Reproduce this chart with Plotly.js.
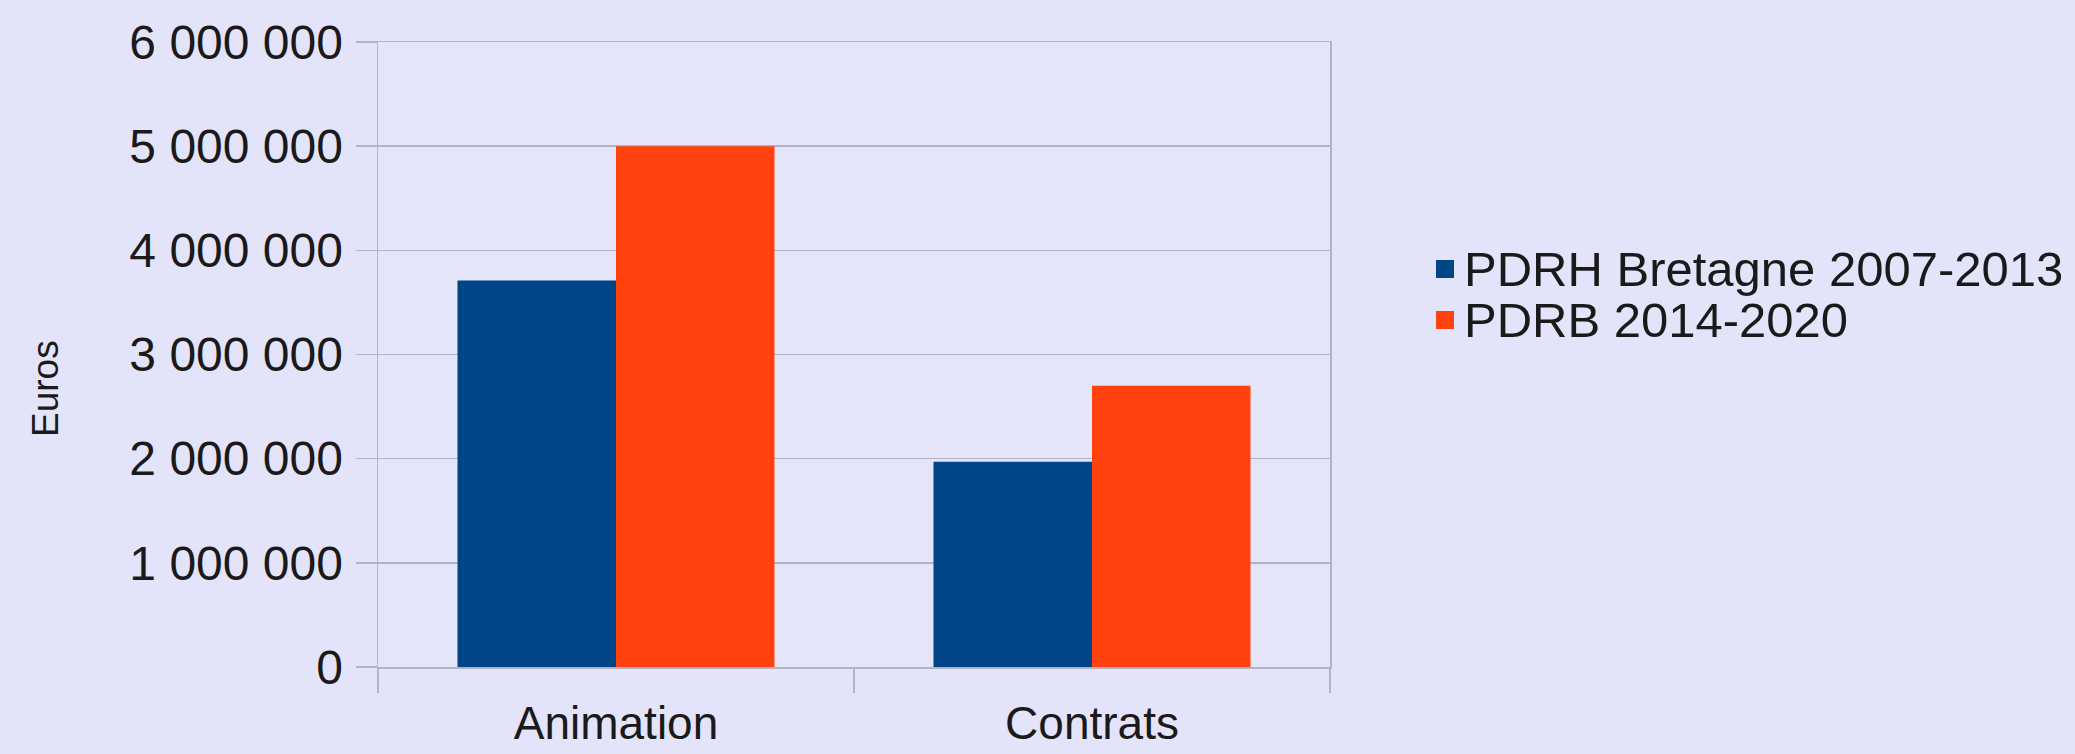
<!DOCTYPE html>
<html>
<head>
<meta charset="utf-8">
<script src="https://cdn.plot.ly/plotly-3.0.1.min.js"></script>
<style>
  html, body { margin: 0; padding: 0; background: #E3E3FA; }
  #chart { width: 2075px; height: 754px; }
</style>
</head>
<body>
<div id="chart"></div>
<script>
const categories = ["Animation", "Contrats"];
const seriesNames = ["PDRH Bretagne 2007-2013", "PDRB 2014-2020"];
const pdrh2007_2013 = [3710000, 1970000];
const pdrb2014_2020 = [5000000, 2700000];
const seriesColors = ["#004586", "#FF420E"];
const yAxisTitle = "Euros";

const FONT = "Liberation Sans, Arial, sans-serif";
const TXT = "#1a1a1a";

const traces = [
  { type: "bar", name: seriesNames[0], x: categories, y: pdrh2007_2013,
    marker: { color: seriesColors[0], line: { width: 0 } }, showlegend: false },
  { type: "bar", name: seriesNames[1], x: categories, y: pdrb2014_2020,
    marker: { color: seriesColors[1], line: { width: 0 } }, showlegend: false }
];

// Plot area in pixels: x 378..1330, y 42..667
const L = 378, R = 1330, T = 42, B = 667;
const px2x = p => (p - L) / (R - L);
const px2y = p => (B - p) / (B - T);

// Legend (drawn as key squares + labels)
const legendCenters = [269, 320];
const legendShapes = seriesNames.map((n, i) => ({
  type: "rect", xref: "paper", yref: "paper", layer: "above",
  x0: px2x(1436), x1: px2x(1454),
  y0: px2y(legendCenters[i] + 9), y1: px2y(legendCenters[i] - 9),
  fillcolor: seriesColors[i], line: { width: 0 }
}));
const legendLabels = seriesNames.map((n, i) => ({
  xref: "paper", yref: "paper",
  x: px2x(1462), y: px2y(legendCenters[i]),
  xanchor: "left", yanchor: "middle",
  showarrow: false, text: n,
  font: { family: FONT, size: 49, color: TXT }
}));

const layout = {
  width: 2075, height: 754,
  margin: { l: L, r: 2075 - R, t: T, b: 754 - B, pad: 0 },
  paper_bgcolor: "#E3E3FA",
  plot_bgcolor: "#E5E5F9",
  font: { family: FONT, size: 46, color: TXT },
  separators: ", ",
  barmode: "group",
  bargap: 0.334,
  bargroupgap: 0,
  showlegend: false,
  xaxis: {
    type: "category",
    showline: true, mirror: true, linecolor: "#B3B3C3", linewidth: 1.5,
    ticks: "outside", tickson: "boundaries", ticklen: 24, tickcolor: "#B3B3C3", tickwidth: 1.5,
    showgrid: false, zeroline: false,
    tickfont: { family: FONT, size: 46, color: TXT },
    ticklabelstandoff: 15
  },
  yaxis: {
    range: [0, 6000000], dtick: 1000000, tick0: 0,
    tickformat: ",d",
    showline: true, mirror: true, linecolor: "#B3B3C3", linewidth: 1.5,
    ticks: "outside", ticklen: 21, tickcolor: "#B3B3C3", tickwidth: 1.5,
    showgrid: true, gridcolor: "#B3B3C3", gridwidth: 1.5,
    zeroline: false,
    tickfont: { family: FONT, size: 48, color: TXT },
    ticklabelstandoff: 3
  },
  shapes: legendShapes,
  annotations: [
    { xref: "paper", yref: "paper", x: px2x(45), y: px2y(389),
      xanchor: "center", yanchor: "middle", textangle: -90, showarrow: false,
      text: yAxisTitle, font: { family: FONT, size: 37, color: TXT } }
  ].concat(legendLabels)
};

Plotly.newPlot("chart", traces, layout, { staticPlot: true, displayModeBar: false });
</script>
</body>
</html>
